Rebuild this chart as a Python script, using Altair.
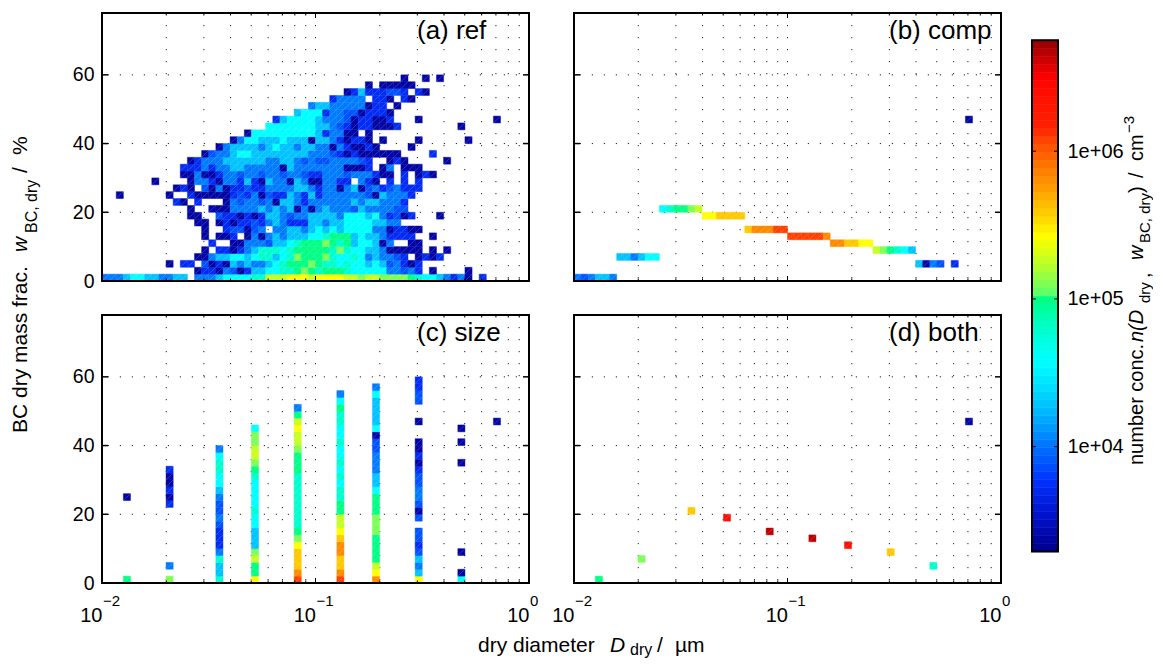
import altair as alt
import pandas as pd

FONT = "Liberation Sans"
PW, PH = 427, 268

# colour classes: letter -> log10(number concentration)
LEVELS = {"d": 3.38, "b": 3.72, "m": 3.88, "a": 4.03, "s": 4.28, "c": 4.57, "t": 4.78, "g": 5.0,
          "l": 5.1, "y": 5.27, "Y": 5.42, "o": 5.6, "O": 5.82, "r": 6.08, "R": 6.4, "D": 6.66}
CMAP_LOG = [3.29, 3.55, 3.78, 4.0, 4.3, 4.57, 5.01, 5.02, 5.2, 5.42, 5.58, 5.81, 6.0, 6.15, 6.5, 6.75]
CMAP_RGB = ["#00008c", "#0014d0", "#0032ff", "#0070ff", "#00c8ff", "#00ffff", "#00ff80", "#50ff70",
            "#aaff32", "#ffff00", "#ffcd00", "#ff8c00", "#ff5a00", "#ff2000", "#ff0000", "#960000"]

# (row index, first column, levels): rows are 2 wt% wide, columns 1/30 decade wide; '.' = empty
PANEL_A = [
    (0, 0, "aaasccssaass"), (0, 13, "aaasccccttyyyYYYy"), (0, 30, "YYYYyylyyllllgtccsabad.b"),
    (1, 13, "dbbdamdbssccttglg"), (1, 30, "tgggtcccccaamab.d....d"),
    (2, 9, "d.bb.mdbdsasaasctgggl"), (2, 30, "gttctccscsmabdb"),
    (3, 13, "ddassccscttsctlgg"), (3, 30, "gltcctcasaamb.dbdb"),
    (4, 14, "d.bbdbastttctggg"), (4, 30, "ggtltccssaddddd.d.d"),
    (5, 15, "b..ddaaamssctgg"), (5, 30, "glgtgsccsda..dd"),
    (6, 14, "d.ddb.dadasasssc"), (6, 30, "ctgggscssabbbb..d"),
    (7, 14, "d..bmmdma.aassas"), (7, 30, "cscsccccaadbbdd"),
    (8, 13, "dd.dbdbbmbasabbbs"), (8, 30, "sassccccssaa"),
    (9, 12, "dd..mbbdbdbssamaas"), (9, 30, "sssacccscabmdb...d"),
    (10, 12, "d..dddaaaasasasdad"), (10, 30, "asaaamsaaaamm"),
    (11, 10, "bd.b...damaamadssaba"), (11, 30, "aaaaasassaaab"),
    (12, 2, "d"), (12, 9, "d..bdddddbmbadmbbsabs"), (12, 30, "baaaaaamdsaaab"),
    (13, 10, "dbd.mdadbbmbbaaaassa"), (13, 30, "baadasdmabmabbb"),
    (14, 7, "d"), (14, 12, "daabdaabsbdsaadsad"), (14, 30, "daabb.abd.b.b.b"),
    (15, 11, "ddaddbaamaamaamaamb"), (15, 30, "baaamaaabdd.b.dbd"),
    (16, 11, "bbbabaassaaaaadsaaa"), (16, 30, "aaaadddb.da.ddd"),
    (17, 12, "dbaaassssssaassama"), (17, 30, "mmaaaamb..dbd.....d"),
    (18, 14, "dmaasccssssssssa"), (18, 30, "aambdbdddddd....b"),
    (19, 16, "dassssascssass"), (19, 30, "aadabddbd....d"),
    (20, 18, "daccssscsssd"), (20, 30, "ssabdbbd.d....d......d"),
    (21, 20, "dccccccccc"), (21, 30, "sbaadd.d"),
    (22, 23, "ccccccc"), (22, 30, "ssambdbbdddb........d"),
    (23, 24, "bscccc"), (23, 30, "saaamdbbddb...d..........d"),
    (24, 27, "scc"), (24, 30, "cbaammdbbbd"),
    (25, 29, "a"), (25, 30, "ssaaaaadbb.d"),
    (26, 32, "baaaa.bbd.bd"), (27, 34, "dbsbbbmmb.bd"),
    (28, 37, "d.ddddd"), (29, 42, "d..d.d"),
]
PANEL_B = [
    (0, 0, "amassa"), (3, 6, "ssascc"), (10, 12, "ctggly"), (9, 18, "YYoooo"),
    (7, 24, "oOOOrr"), (6, 30, "rrrrrO"), (5, 36, "OOooYY"), (4, 42, "ylgtcs"),
    (2, 48, "sdam.b"), (23, 55, "d"),
]
# (column, first row, levels going upward)
PANEL_C = [
    (3, 0, "g"), (3, 12, "d"), (9, 0, "l"), (9, 2, "a"), (9, 11, "bdbddb"),
    (16, 0, "tsstabbbmammasccttca"),
    (21, 0, "Yggylssscctcccctglyyllc"),
    (27, 0, "rOoooYlgttttttttggglyyYyga"),
    (33, 0, "rOooOOoYyyggttctctcctccttgca"),
    (38, 0, "OYygggglllgggcssaaammdcssssca"),
    (44, 0, "Ysasmbmm.mdmaammbdbdd..d..mmbb"),
    (50, 0, "cd..d"), (50, 17, "d..d.d"), (55, 23, "d"),
]
PANEL_D = [(3, 0, "g"), (9, 3, "l"), (16, 10, "o"), (21, 9, "R"), (27, 7, "D"), (33, 6, "D"),
           (38, 5, "R"), (44, 4, "o"), (50, 2, "t"), (55, 23, "d")]

PANEL_LABELS = ["(a) ref", "(b) comp", "(c) size", "(d) both"]
YTICKS = [0, 20, 40, 60]
XDECADES = [0.01, 0.1, 1.0]
XEXPONENTS = ["\u22122", "\u22121", "0"]
XMINOR = [m * d for d in (0.01, 0.1) for m in range(2, 10)]
CBAR_TICKS = [1e4, 1e5, 1e6]


def cells_from_rows(rows):
    out = []
    for j, start, s in rows:
        for k, ch in enumerate(s):
            if ch != ".":
                out.append((start + k, j, ch))
    return out


def cells_from_cols(cols):
    out = []
    for i, start, s in cols:
        for k, ch in enumerate(s):
            if ch != ".":
                out.append((i, start + k, ch))
    return out


def frame(cells):
    return pd.DataFrame([{
        "x0": 10 ** (-2 + i / 30), "x1": 10 ** (-2 + (i + 1) / 30),
        "y0": 2 * j, "y1": 2 * j + 2, "conc": 10 ** LEVELS[ch]} for i, j, ch in cells])


xscale = alt.Scale(type="log", domain=[0.01, 1], base=10, nice=False)
yscale = alt.Scale(domain=[0, 78], nice=False)
cscale = alt.Scale(type="log", domain=[10 ** v for v in CMAP_LOG], range=CMAP_RGB, clamp=True)


def label(text, px, py, size, italic=False, angle=0, align="left"):
    kw = {"fontStyle": "italic"} if italic else {}
    return alt.Chart(alt.Data(values=[{"t": text}])).mark_text(
        font=FONT, fontSize=size, align=align, baseline="alphabetic", angle=angle, color="black", **kw
    ).encode(text="t:N", x=alt.value(px), y=alt.value(py))


def panel(df, name, left, bottom, extras=()):
    if bottom:
        xaxis = alt.Axis(values=XDECADES, labelExpr="'10'", labelAlign="right", labelFontSize=20, labelFont=FONT,
                         labelColor="black", ticks=False, domain=False, grid=False, title=None, labelPadding=38,
                         labelBaseline="alphabetic", labelOverlap=False, labelFlush=False, labelBound=False)
    else:
        xaxis = alt.Axis(values=XDECADES, labels=False, ticks=False, domain=False, grid=False, title=None)
    if left:
        yaxis = alt.Axis(values=YTICKS, labelFontSize=19.5, labelFont=FONT, labelColor="black", ticks=False,
                         domain=False, grid=False, title=None, labelPadding=8)
    else:
        yaxis = alt.Axis(values=YTICKS, labels=False, ticks=False, domain=False, grid=False, title=None)
    X = lambda f: alt.X(f, scale=xscale, axis=xaxis)
    Y = lambda f: alt.Y(f, scale=yscale, axis=yaxis)

    vgrid = pd.DataFrame({"v": XMINOR + [0.1]})
    hgrid = pd.DataFrame({"v": YTICKS[1:]})
    vg = alt.Chart(vgrid).mark_rule(color="#222222", strokeWidth=1, strokeDash=[1.2, 10.8]).encode(x=X("v:Q"))
    hg = alt.Chart(hgrid).mark_rule(color="#222222", strokeWidth=1, strokeDash=[1.2, 10.8]).encode(y=Y("v:Q"))
    base = alt.Chart(df)
    rects = base.mark_rect(strokeWidth=1, strokeOpacity=0.45).encode(
        x=X("x0:Q"), x2="x1:Q", y=Y("y0:Q"), y2="y1:Q",
        color=alt.Color("conc:Q", scale=cscale, legend=None),
        stroke=alt.Stroke("conc:Q", scale=cscale, legend=None))
    diag = base.mark_rule(color="white", strokeWidth=0.6, opacity=0.3).encode(
        x=X("x0:Q"), x2="x1:Q", y=Y("y0:Q"), y2="y1:Q")

    layers = [vg, hg, rects, diag]
    for yy, ln, vals in ((PH, 5, [0.1]), (PH, 2.5, XMINOR), (0, 5, [0.1]), (0, 2.5, XMINOR)):
        y2 = yy - ln if yy else ln
        layers.append(alt.Chart(pd.DataFrame({"v": vals})).mark_rule(color="black", strokeWidth=1).encode(
            x=X("v:Q"), y=alt.value(yy), y2=alt.value(y2)))
    for xx, ln in ((0, 6), (PW, -6)):
        layers.append(alt.Chart(pd.DataFrame({"v": YTICKS[1:]})).mark_rule(color="black", strokeWidth=1.5).encode(
            y=Y("v:Q"), x=alt.value(xx), x2=alt.value(xx + ln)))
    layers.append(alt.Chart(alt.Data(values=[{"a": 1}])).mark_rect(fillOpacity=0, stroke="black", strokeWidth=2).encode(
        x=alt.value(0), x2=alt.value(PW), y=alt.value(0), y2=alt.value(PH)))
    if bottom:
        ex = pd.DataFrame({"v": XDECADES, "e": XEXPONENTS})
        layers.append(alt.Chart(ex).mark_text(font=FONT, fontSize=15, align="left", baseline="alphabetic",
                                              color="black", dx=1).encode(
            x=X("v:Q"), y=alt.value(PH + 23), text="e:N"))
    layers.append(label(name, 315, 26, 26))
    layers.extend(extras)
    return alt.layer(*layers).properties(width=PW, height=PH)


# y title, rotated, on panel (a): pixel offsets from that panel's corner
ytitle = [
    label("BC dry mass frac.", -75, 420, 21, angle=270),
    label("w", -75, 239, 21, italic=True, angle=270),
    label("BC, dry", -65, 220, 16, angle=270),
    label("/", -75, 160, 21, angle=270),
    label("%", -75, 142, 21, angle=270),
]
# x title on panel (c)
xtitle = [
    label("dry diameter", 376, 337, 21),
    label("D", 508, 337, 21, italic=True),
    label("dry", 528, 340, 16),
    label("/", 555, 337, 21),
    label("\u00b5m", 573, 337, 21),
]

pa = panel(frame(cells_from_rows(PANEL_A)), PANEL_LABELS[0], True, False, ytitle)
pb = panel(frame(cells_from_rows(PANEL_B)), PANEL_LABELS[1], False, False)
pc = panel(frame(cells_from_cols(PANEL_C)), PANEL_LABELS[2], True, True, xtitle)
pd_ = panel(frame(cells_from_cols(PANEL_D)), PANEL_LABELS[3], False, True)
grid = alt.concat(pa, pb, pc, pd_, columns=2, spacing=alt.RowColnumber(row=34, column=45), bounds="flush")

# colour bar
CB_LO, CB_HI, CB_N = 3.29, 6.75, 64
CB_PXDEC = 146.0
CB_H = PH * 2 + 34
edges = [CB_LO + (CB_HI - CB_LO) * k / CB_N for k in range(CB_N + 1)]
bands = pd.DataFrame({"lo": [10 ** v for v in edges[:-1]], "hi": [10 ** v for v in edges[1:]],
                      "mid": [10 ** ((a + b) / 2) for a, b in zip(edges[:-1], edges[1:])]})
cb_y = alt.Scale(type="log", nice=False,
                 domain=[10 ** (CB_LO - 31 / CB_PXDEC), 10 ** (CB_HI + 27 / CB_PXDEC)])
cb_axis = alt.Axis(orient="right", values=CBAR_TICKS, labelExpr="'1e+0' + round(log(datum.value) / LN10)",
                   labelFontSize=20, labelFont=FONT, labelColor="black", ticks=False, domain=False, grid=False,
                   title=None, labelPadding=9)
CY = lambda f: alt.Y(f, scale=cb_y, axis=cb_axis)
cb_bands = alt.Chart(bands).mark_rect(strokeWidth=0.6).encode(
    x=alt.value(0), x2=alt.value(26),
    y=CY("lo:Q"), y2="hi:Q",
    color=alt.Color("mid:Q", scale=cscale, legend=None),
    stroke=alt.Stroke("mid:Q", scale=cscale, legend=None))
cb_frame = alt.Chart(pd.DataFrame({"lo": [10 ** CB_LO], "hi": [10 ** CB_HI]})).mark_rect(
    fillOpacity=0, stroke="black", strokeWidth=2).encode(
    x=alt.value(0), x2=alt.value(26), y=CY("lo:Q"), y2="hi:Q")
cb_ticks = [alt.Chart(pd.DataFrame({"v": CBAR_TICKS})).mark_rule(color="black", strokeWidth=1).encode(
    y=CY("v:Q"), x=alt.value(a), x2=alt.value(b)) for a, b in ((0, 4), (22, 26))]
cb_title = [
    label("number conc.", 111, 452, 20, angle=270),
    label("n(D", 111, 329, 20, italic=True, angle=270),
    label("dry", 118, 290, 15, angle=270),
    label(",", 118, 265, 20, angle=270),
    label("w", 111, 247, 20, italic=True, angle=270),
    label("BC, dry", 118, 230, 15, angle=270),
    label(")", 111, 180, 20, angle=270),
    label("/", 111, 165, 20, angle=270),
    label("cm", 111, 148, 20, angle=270),
    label("\u22123", 102, 120, 15, angle=270),
]
cbar = alt.layer(cb_bands, cb_frame, *cb_ticks, *cb_title).properties(width=26, height=CB_H)

chart = alt.hconcat(grid, cbar, spacing=20).properties(
    padding={"left": 2, "top": 4, "right": -1, "bottom": 0}
).configure_view(stroke=None).configure_axis(labelFont=FONT)

chart.save("out.html", embed_options={"renderer": "svg", "actions": False})
